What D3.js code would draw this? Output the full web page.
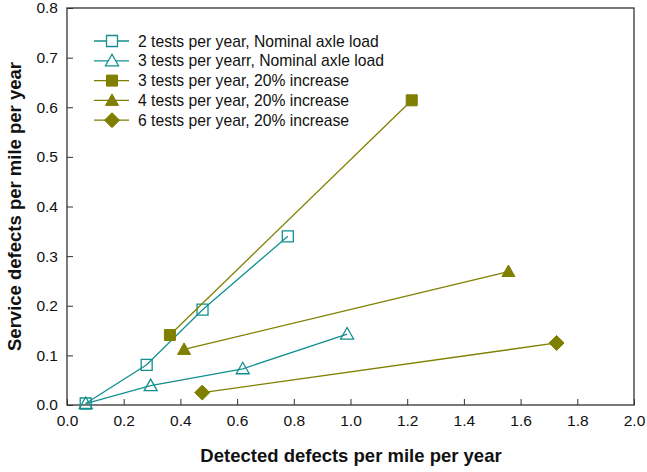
<!DOCTYPE html>
<html>
<head>
<meta charset="utf-8">
<script src="https://cdn.jsdelivr.net/npm/d3@7"></script>
<style>
body { margin: 0; background: #fff; }
text { font-family: "Liberation Sans", Arial, sans-serif; }
</style>
</head>
<body>
<div class="chart"></div>
<script>
// series: [detected, service]
var s2nom = [[0.066, 0.003], [0.281, 0.081], [0.478, 0.192], [0.779, 0.340]];
var s3nom = [[0.066, 0.003], [0.295, 0.039], [0.620, 0.073], [0.988, 0.143]];
var s3inc = [[0.363, 0.141], [1.216, 0.614]];
var s4inc = [[0.413, 0.112], [1.557, 0.269]];
var s6inc = [[0.477, 0.025], [1.727, 0.125]];

var seriesNames = [
  "2 tests per year, Nominal axle load",
  "3 tests per yearr, Nominal axle load",
  "3 tests per year, 20% increase",
  "4 tests per year, 20% increase",
  "6 tests per year, 20% increase"
];
var xTicks = [0, 0.2, 0.4, 0.6, 0.8, 1.0, 1.2, 1.4, 1.6, 1.8, 2.0];
var yTicks = [0, 0.1, 0.2, 0.3, 0.4, 0.5, 0.6, 0.7, 0.8];

var teal = "#138f8f";
var olive = "#7f7f00";

var series = [
  {name: seriesNames[0], data: s2nom, color: teal, shape: "square", filled: false},
  {name: seriesNames[1], data: s3nom, color: teal, shape: "triangle", filled: false},
  {name: seriesNames[2], data: s3inc, color: olive, shape: "square", filled: true},
  {name: seriesNames[3], data: s4inc, color: olive, shape: "triangle", filled: true},
  {name: seriesNames[4], data: s6inc, color: olive, shape: "diamond", filled: true}
];

var w = 647, h = 472;
var plotLeft = 67, plotRight = 634, plotTop = 8, plotBottom = 405;

var svg = d3.select(".chart").append("svg")
  .attr("width", w)
  .attr("height", h);

var x = d3.scaleLinear().domain([0, 2]).range([plotLeft, plotRight]);
var y = d3.scaleLinear().domain([0, 0.8]).range([plotBottom, plotTop]);

// frame
svg.append("rect")
  .attr("x", plotLeft).attr("y", plotTop)
  .attr("width", plotRight - plotLeft).attr("height", plotBottom - plotTop)
  .attr("fill", "none").attr("stroke", "#333").attr("stroke-width", 1.3);

var xAxis = svg.append("g")
  .attr("transform", "translate(0," + plotBottom + ")")
  .call(d3.axisBottom(x).tickValues(xTicks).tickSize(-6).tickPadding(10)
    .tickFormat(d3.format(".1f")));
xAxis.select(".domain").remove();
xAxis.selectAll("text").attr("font-size", 15.5).attr("fill", "#111")
  .attr("font-family", "Liberation Sans, Arial, sans-serif");
xAxis.selectAll("line").attr("stroke", "#333");

var yAxis = svg.append("g")
  .attr("transform", "translate(" + plotLeft + ",0)")
  .call(d3.axisLeft(y).tickValues(yTicks).tickSize(-6).tickPadding(9)
    .tickFormat(d3.format(".1f")));
yAxis.select(".domain").remove();
yAxis.selectAll("text").attr("font-size", 15.5).attr("fill", "#111")
  .attr("font-family", "Liberation Sans, Arial, sans-serif");
yAxis.selectAll("line").attr("stroke", "#333");

// axis titles
svg.append("text")
  .attr("x", 351).attr("y", 462)
  .attr("text-anchor", "middle")
  .attr("font-size", 18.5).attr("font-weight", "bold").attr("fill", "#111")
  .text("Detected defects per mile per year");

svg.append("text")
  .attr("transform", "translate(21," + (plotTop + plotBottom) / 2 + ") rotate(-90)")
  .attr("text-anchor", "middle")
  .attr("font-size", 18.5).attr("font-weight", "bold").attr("fill", "#111")
  .text("Service defects per mile per year");

function markerPath(shape) {
  if (shape == "square") return "M-5.5,-5.5H5.5V5.5H-5.5Z";
  if (shape == "triangle") return "M0,-6.5L6.5,5L-6.5,5Z";
  return "M0,-7.5L7.5,0L0,7.5L-7.5,0Z";
}

var line = d3.line()
  .x(function(d) { return x(d[0]); })
  .y(function(d) { return y(d[1]); });

series.forEach(function(s) {
  svg.append("path")
    .attr("d", line(s.data))
    .attr("fill", "none")
    .attr("stroke", s.color)
    .attr("stroke-width", 1.3);

  svg.selectAll(null)
    .data(s.data)
    .enter()
    .append("path")
    .attr("transform", function(d) { return "translate(" + x(d[0]) + "," + y(d[1]) + ")"; })
    .attr("d", markerPath(s.shape))
    .attr("fill", s.filled ? s.color : "none")
    .attr("stroke", s.color)
    .attr("stroke-width", s.filled ? 1 : 1.3);
});

// legend
var legend = svg.append("g");
series.forEach(function(s, i) {
  var ly = 41 + i * 19.8;
  legend.append("line")
    .attr("x1", 94).attr("x2", 129)
    .attr("y1", ly).attr("y2", ly)
    .attr("stroke", s.color).attr("stroke-width", 1.3);
  legend.append("path")
    .attr("transform", "translate(112," + ly + ")")
    .attr("d", markerPath(s.shape))
    .attr("fill", s.filled ? s.color : "#fff")
    .attr("stroke", s.color)
    .attr("stroke-width", s.filled ? 1 : 1.3);
  legend.append("text")
    .attr("x", 138).attr("y", ly + 5.5)
    .attr("font-size", 15.7).attr("fill", "#111")
    .text(s.name);
});
</script>
</body>
</html>
